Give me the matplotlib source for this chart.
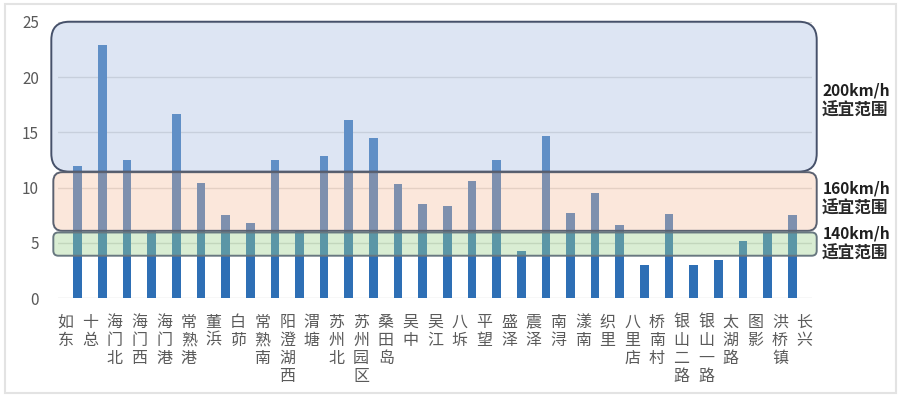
import numpy as np
import matplotlib.pyplot as plt
from matplotlib.patches import FancyBboxPatch, Rectangle
import matplotlib.transforms as mtransforms

plt.rcParams['font.family'] = ['Noto Sans CJK SC', 'DejaVu Sans']

stations = ['如东', '十总', '海门北', '海门西', '海门港', '常熟港', '董浜', '白茆',
            '常熟南', '阳澄湖西', '渭塘', '苏州北', '苏州园区', '桑田岛', '吴中', '吴江',
            '八坼', '平望', '盛泽', '震泽', '南浔', '漾南', '织里', '八里店', '桥南村',
            '银山二路', '银山一路', '太湖路', '图影', '洪桥镇', '长兴']
# one bar per gap between neighbouring stations
gaps = [12.0, 22.9, 12.5, 6.2, 16.7, 10.4, 7.5, 6.8, 12.5, 6.2, 12.9, 16.1, 14.5, 10.3, 8.5,
        8.3, 10.6, 12.5, 4.3, 14.7, 7.7, 9.5, 6.6, 3.0, 7.6, 3.0, 3.5, 5.2, 6.0, 7.5]
yticks = [0, 5, 10, 15, 20, 25]

# speed bands: (speed, low, high, colour, edge colour, corner radius px)
bands = [
    ('200km/h', 11.45, 25.0, '#ACC0E1', '#46516A', 18),
    ('160km/h', 6.1, 11.4, '#F7C3A5', '#5A6170', 9),
    ('140km/h', 3.85, 5.95, '#A0D291', '#687880', 5),
]
band_label_y = [17.9, 9.0, 4.95]
band_note = '适宜范围'

fig = plt.figure(figsize=(9, 3.97), dpi=100)
ax = fig.add_axes([0.0648, 0.2486, 0.8371, 0.6967])

x_bar = np.arange(len(gaps)) + 0.5
ax.bar(x_bar, gaps, width=0.35, color='#2E6FB5', zorder=2)

ax.set_xlim(-0.29, len(stations) - 1 + 0.29)
ax.set_ylim(0, 25)
ax.set_yticks(yticks)
ax.set_yticklabels([str(v) for v in yticks], fontsize=11, color='#595959')
ax.set_xticks(np.arange(len(stations)))
ax.set_xticklabels(['\n'.join(s) for s in stations], fontsize=11.5, color='#5A5A5A',
                   linespacing=1.08, va='top')
ax.tick_params(axis='both', length=0)
ax.tick_params(axis='y', pad=14)
ax.tick_params(axis='x', pad=11)
for sp in ax.spines.values():
    sp.set_visible(False)
ax.grid(axis='y', color='#D9D9D9', lw=1, zorder=0)
ax.set_axisbelow(True)

# rounded band boxes, aspect corrected so corners look round
px_x = (ax.get_xlim()[1] - ax.get_xlim()[0]) / (0.8371 * 900)
px_y = 25 / (0.6967 * 397)
aspect = px_y / px_x
trans = mtransforms.blended_transform_factory(ax.transAxes, ax.transData)
for (speed, lo, hi, col, ec, r), ly in zip(bands, band_label_y):
    x0 = -0.29 - (7 if hi == 25.0 else 5) * px_x
    x1 = len(stations) - 1 + 0.29 + 5 * px_x
    style = 'round,pad=0,rounding_size=%f' % (r * px_x)
    ax.add_patch(FancyBboxPatch((x0, lo), x1 - x0, hi - lo, boxstyle=style,
                                mutation_aspect=aspect, facecolor=col, alpha=0.4,
                                edgecolor='none', zorder=3, clip_on=False))
    ax.add_patch(FancyBboxPatch((x0, lo), x1 - x0, hi - lo, boxstyle=style,
                                mutation_aspect=aspect, facecolor='none',
                                edgecolor=ec, lw=1.4, zorder=4, clip_on=False))
    ax.text(1.0145, ly + 0.9, speed, transform=trans, fontsize=11.2, fontweight='bold',
            color='#1F1F1F', va='center', ha='left')
    ax.text(1.0125, ly - 0.9, band_note, transform=trans, fontsize=12, fontweight='bold',
            color='#2A2A2A', va='center', ha='left')

# light outer frame
fig.patches.append(Rectangle((5 / 900, 4 / 397), 891 / 900, 389 / 397,
                             transform=fig.transFigure, fill=False,
                             edgecolor='#E3E3E3', lw=1.5))

fig.savefig('out.png', dpi=100)
